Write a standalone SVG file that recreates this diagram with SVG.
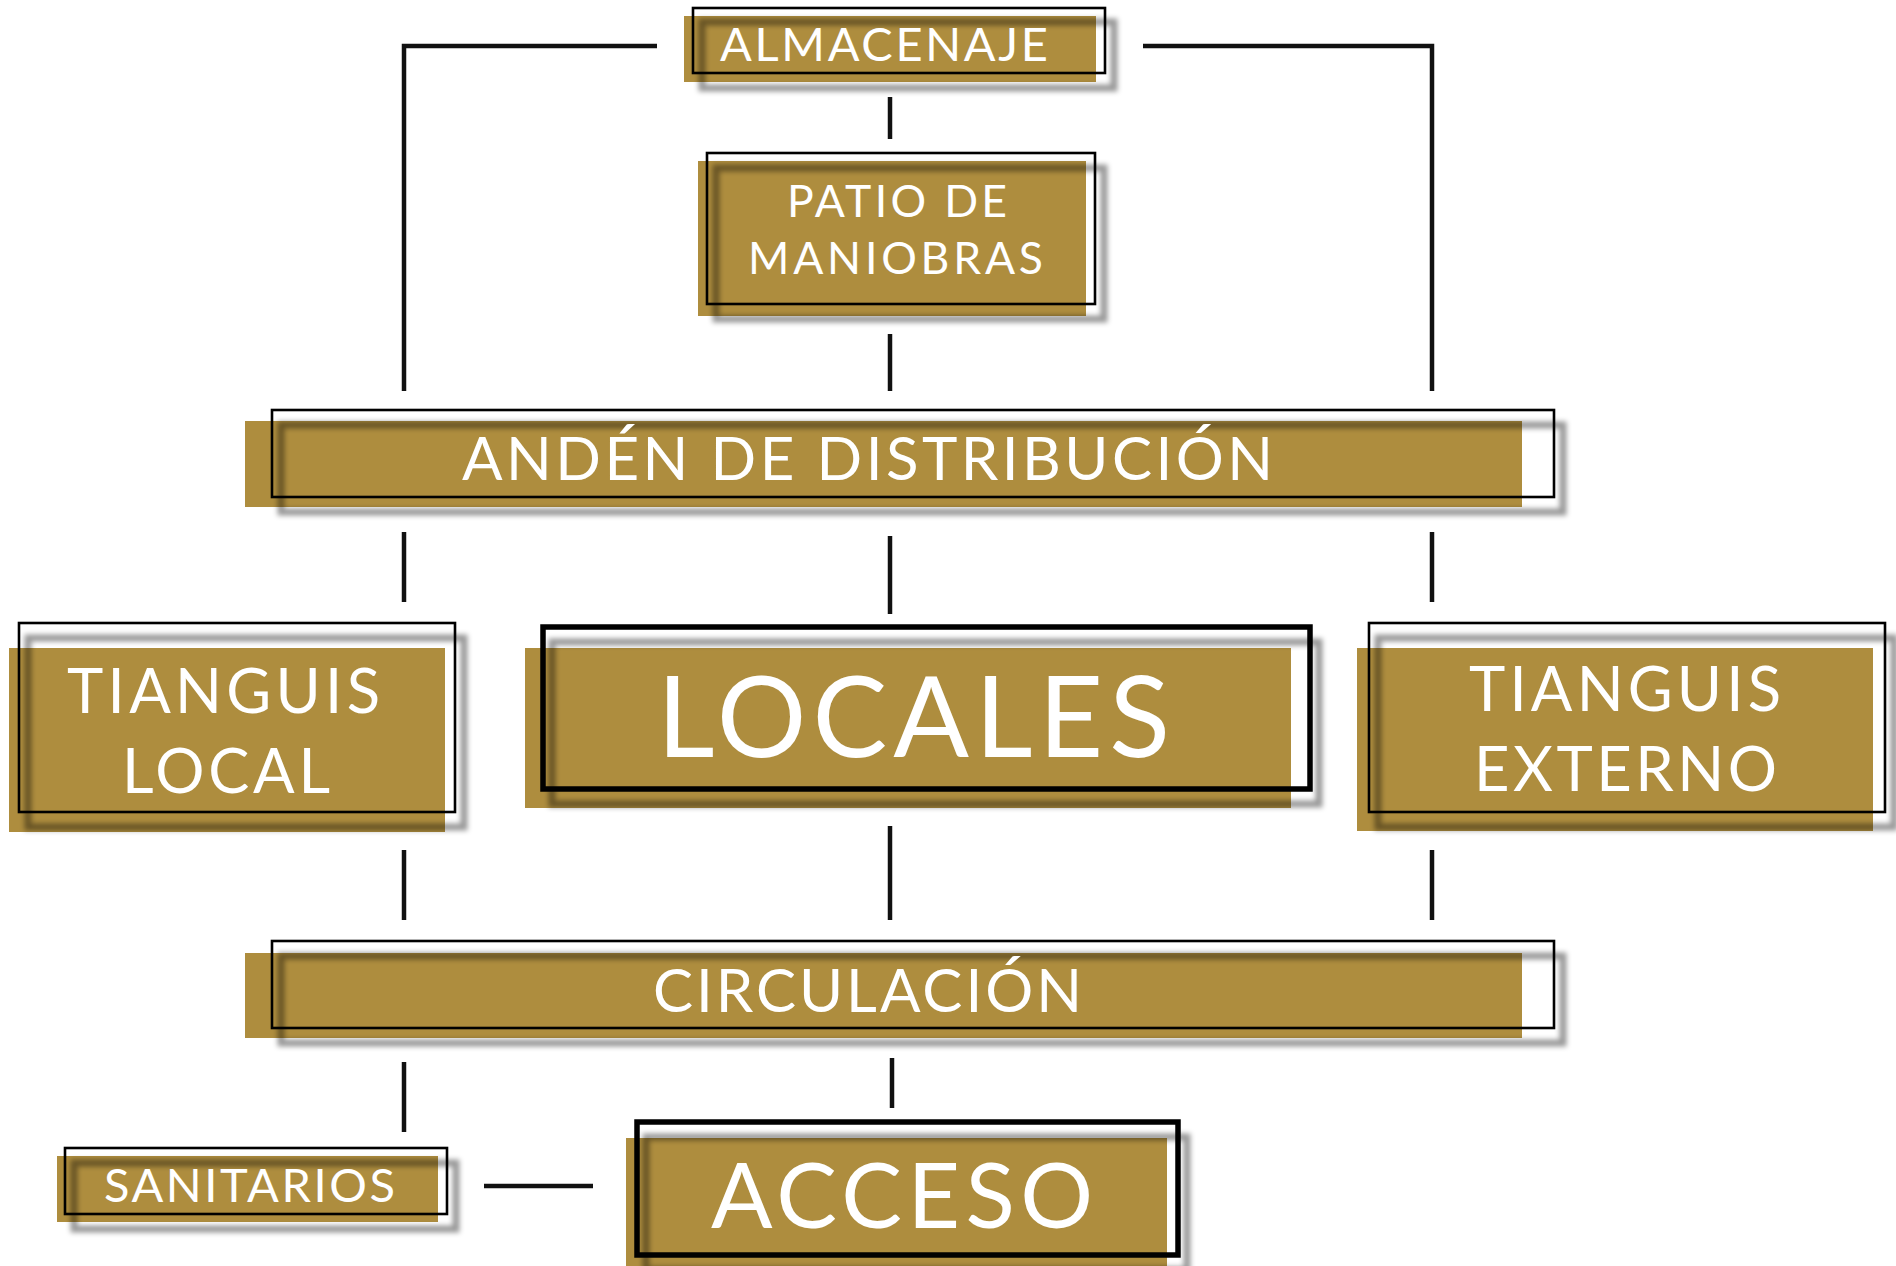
<svg xmlns="http://www.w3.org/2000/svg" width="1896" height="1266" viewBox="0 0 1896 1266">
<defs>
<filter id="blur" x="-10%" y="-30%" width="120%" height="160%"><feGaussianBlur stdDeviation="2.5"/></filter>
<style>
.gold{fill:#ae8d3e}
.sh{fill:none;stroke:#000;stroke-opacity:0.4;stroke-width:7;filter:url(#blur)}
.box{fill:none;stroke:#000;stroke-width:2.6}
.boxb{fill:none;stroke:#000;stroke-width:5.5}
.t{fill:#fff;font-family:Lato,"Liberation Sans",Arial,sans-serif;font-weight:400}
.ln{stroke:#111;stroke-width:4.5;fill:none}
</style>
</defs>
<rect width="1896" height="1266" fill="#fff"/>
<g id="connectors">
<path class="ln" d="M657,46 H404 V391"/>
<path class="ln" d="M1143,46 H1432 V391"/>
<line class="ln" x1="890" y1="97" x2="890" y2="139"/>
<line class="ln" x1="890" y1="334" x2="890" y2="391"/>
<line class="ln" x1="404" y1="532" x2="404" y2="602"/>
<line class="ln" x1="890" y1="536" x2="890" y2="614"/>
<line class="ln" x1="1432" y1="532" x2="1432" y2="602"/>
<line class="ln" x1="404" y1="850" x2="404" y2="920"/>
<line class="ln" x1="890" y1="826" x2="890" y2="920"/>
<line class="ln" x1="1432" y1="850" x2="1432" y2="920"/>
<line class="ln" x1="404" y1="1062" x2="404" y2="1132"/>
<line class="ln" x1="892" y1="1058" x2="892" y2="1108"/>
<line class="ln" x1="484" y1="1186" x2="593" y2="1186"/>
</g>
<g id="almacenaje">
<rect class="gold" x="684" y="16" width="412" height="66"/>
<rect class="sh" x="702" y="22" width="412" height="66"/>
<rect class="box" x="693" y="8" width="412" height="65"/>
<text class="t" x="720" y="61" font-size="47" textLength="328" lengthAdjust="spacing">ALMACENAJE</text>
</g>
<g id="patio">
<rect class="gold" x="698" y="161" width="388" height="155"/>
<rect class="sh" x="716" y="168" width="388" height="151"/>
<rect class="box" x="707" y="153" width="388" height="151"/>
<text class="t" x="787" y="217" font-size="44.5" textLength="220" lengthAdjust="spacing">PATIO DE</text>
<text class="t" x="748" y="274" font-size="44.5" textLength="295" lengthAdjust="spacing">MANIOBRAS</text>
</g>
<g id="anden">
<rect class="gold" x="245" y="421" width="1277" height="86"/>
<rect class="sh" x="281" y="425" width="1282" height="87"/>
<rect class="box" x="272" y="410" width="1282" height="87"/>
<text class="t" x="462" y="480" font-size="60" textLength="811" lengthAdjust="spacing">ANDÉN DE DISTRIBUCIÓN</text>
</g>
<g id="tianguis-local">
<rect class="gold" x="9" y="648" width="436" height="184"/>
<rect class="sh" x="28" y="638" width="436" height="189"/>
<rect class="box" x="19" y="623" width="436" height="189"/>
<text class="t" x="67" y="713" font-size="61.5" textLength="313" lengthAdjust="spacing">TIANGUIS</text>
<text class="t" x="122" y="793" font-size="61.5" textLength="208" lengthAdjust="spacing">LOCAL</text>
</g>
<g id="locales">
<rect class="gold" x="525" y="648" width="766" height="160"/>
<rect class="sh" x="552" y="642" width="767" height="162"/>
<rect class="boxb" x="543" y="627" width="767" height="162"/>
<text class="t" x="657" y="757" font-size="112" textLength="513" lengthAdjust="spacing">LOCALES</text>
</g>
<g id="tianguis-externo">
<rect class="gold" x="1357" y="648" width="516" height="183"/>
<rect class="sh" x="1378" y="638" width="516" height="189"/>
<rect class="box" x="1369" y="623" width="516" height="189"/>
<text class="t" x="1469" y="711" font-size="61.5" textLength="312" lengthAdjust="spacing">TIANGUIS</text>
<text class="t" x="1474" y="791" font-size="61.5" textLength="303" lengthAdjust="spacing">EXTERNO</text>
</g>
<g id="circulacion">
<rect class="gold" x="245" y="953" width="1277" height="85"/>
<rect class="sh" x="281" y="956" width="1282" height="87"/>
<rect class="box" x="272" y="941" width="1282" height="87"/>
<text class="t" x="653" y="1012" font-size="60" textLength="429" lengthAdjust="spacing">CIRCULACIÓN</text>
</g>
<g id="sanitarios">
<rect class="gold" x="57" y="1156" width="381" height="66"/>
<rect class="sh" x="74" y="1163" width="382" height="66"/>
<rect class="box" x="65" y="1148" width="382" height="66"/>
<text class="t" x="104" y="1202" font-size="47" textLength="291" lengthAdjust="spacing">SANITARIOS</text>
</g>
<g id="acceso">
<rect class="gold" x="626" y="1138" width="541" height="128"/>
<rect class="sh" x="646" y="1137" width="541" height="133"/>
<rect class="boxb" x="637" y="1122" width="541" height="133"/>
<text class="t" x="711" y="1228" font-size="91" textLength="382" lengthAdjust="spacing">ACCESO</text>
</g>
</svg>
